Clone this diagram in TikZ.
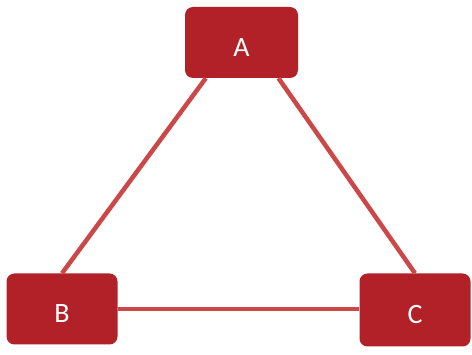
\documentclass[tikz,border=0pt]{standalone}
\usepackage{fontspec}
\setmainfont{Carlito}
\usepackage{tikz}
\usetikzlibrary{positioning}
\definecolor{boxred}{RGB}{178,32,40}
\definecolor{linkred}{RGB}{204,72,72}

\begin{document}
\begin{tikzpicture}[x=1pt, y=-1pt,
    vertex/.style={draw=none, fill=boxred, rounded corners=8pt, minimum width=111pt, minimum height=71pt, inner sep=0pt, text=white, text height=28pt, text depth=0pt, font=\fontsize{28}{32}\selectfont},
    link/.style={linkred, line width=4.5pt}]
                \useasboundingbox (0,0) rectangle (472,355);

                % Nodi
                \node[vertex, minimum width=113pt] (A) at (241.5,42.5) {A};
                \node[vertex] (B) at (62,309) {B};
                \node[vertex, minimum height=73pt] (C) at (415,310) {C};

                % Lati
                \draw[link] (A.225) -- (B.north);
                \draw[link] (A.316) -- (C.north);
                \draw[link] (B.east) -- (C.west |- B.east);
            \end{tikzpicture}
\end{document}
